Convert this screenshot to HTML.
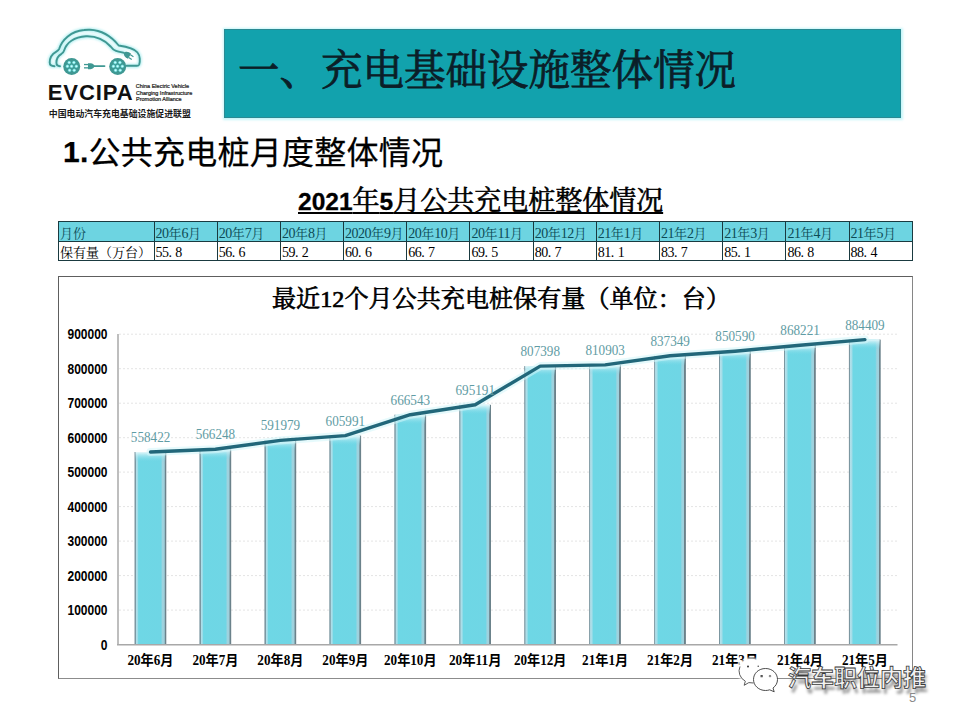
<!DOCTYPE html>
<html><head><meta charset="utf-8"><title>slide</title>
<style>
*{margin:0;padding:0;box-sizing:border-box}
html,body{width:960px;height:720px;overflow:hidden;background:#fff}
body{position:relative;font-family:"Liberation Sans","Noto Sans CJK SC",sans-serif;color:#000}
.abs{position:absolute}
#tbar{left:224px;top:29px;width:677px;height:89px;background:#12a2ad;border:1px solid #2a8a93;box-shadow:0 0 2px 1.5px rgba(175,242,247,0.7)}
#ttl{left:238px;top:45.8px;font-family:"Liberation Serif","Noto Serif CJK SC",serif;font-weight:400;-webkit-text-stroke:0.8px #0b1e28;font-size:41.5px;line-height:50px;color:#0b1e28;white-space:nowrap}
#h1{left:63px;top:131.5px;font-size:32px;line-height:42px;white-space:nowrap;font-weight:400;letter-spacing:0.25px;-webkit-text-stroke:0.25px #000}
#h1 b{font-family:"Liberation Sans",sans-serif;font-weight:700;font-size:30px;position:relative;top:-2px}
#sub{left:298px;top:184px;font-size:27px;line-height:34px;font-weight:400;font-family:"Liberation Sans","Noto Serif CJK SC",serif;-webkit-text-stroke:0.6px #000;white-space:nowrap;text-decoration:underline;text-decoration-thickness:1.6px;text-underline-offset:1.5px}
#sub span{font-size:24.5px;font-weight:700;-webkit-text-stroke:0.3px #000}
table{position:absolute;left:58px;top:221px;border-collapse:collapse;font-family:"Liberation Serif","Noto Serif CJK SC",serif;font-size:13px;table-layout:fixed}
td{border:1.5px solid #1a3a40;height:20px;padding:0 0 0 1px;white-space:nowrap;line-height:18px;overflow:hidden;width:63.2px}
tr.hd td{background:#6dd4e1;color:#0c4a55;height:20px}
tr.bd td{height:18px}
td.f{width:95.5px}
td i{font-style:normal;letter-spacing:3.3px}
.n{font-size:14px;letter-spacing:-0.5px}
.w{position:relative;top:2px}
#chartbox{left:58px;top:276px;width:855px;height:402.5px;border:1.4px solid #5e5e5e;border-right-color:#868686;border-bottom:1.6px solid #8c8c8c}
#ctitle{left:272px;top:284px;letter-spacing:0.1px;-webkit-text-stroke:0.7px #000;font-family:"Liberation Serif","Noto Serif CJK SC",serif;font-weight:400;font-size:24px;line-height:30px;white-space:nowrap}
svg text.yl{font-family:"Liberation Sans",sans-serif;font-weight:700;font-size:14px;fill:#000}
svg text.dl{font-family:"Liberation Serif","Noto Serif CJK SC",serif;font-size:14.8px;fill:#5f9ca4}
svg text.xl{font-family:"Liberation Serif","Noto Sans CJK SC",sans-serif;font-weight:700;font-size:14px;fill:#000}
#pg{left:909px;top:690px;font-size:13px;line-height:16px;color:#8a8a8a}
#wm{left:788px;top:662.5px;font-size:23px;font-weight:700;line-height:30px;color:#f2f2f2;white-space:nowrap;font-family:"Liberation Sans","Noto Sans CJK SC",sans-serif;-webkit-text-stroke:0.8px #3a3a3a;text-shadow:2px 4.5px 3px rgba(0,0,0,0.4)}
</style></head><body>
<svg class="abs" style="left:0;top:0" width="200" height="125" viewBox="0 0 200 125">
 <defs><filter id="glow" x="-10%" y="-10%" width="120%" height="120%"><feGaussianBlur stdDeviation="1.2"/></filter></defs>
 <g fill="none" stroke="#b2eff1" stroke-width="4.2" stroke-linecap="round" stroke-linejoin="round" filter="url(#glow)" opacity="0.9">
  <path d="M54.5,66.2 C51.5,66.2 49.7,65.5 49.7,62.5 C49.7,57.5 52,54 56,51.8 C57.5,51 58.6,50.2 59.2,48.8 C62,40 71,31 84,30 C86,29.8 88,29.7 90,29.8 C101,30.2 111,36 118.7,45.5 C126,46.5 134,48 137.5,52.5 C140.5,56 140,62 139.2,64.5 C138.8,65.5 138,65.8 137,65.8 L126.5,65.8"/>
  <path d="M60,66.2 C57.5,66.2 56.4,65.5 56.4,62.5 C56.4,58.5 58.5,55.5 61.5,53.8 C62.8,53 63.5,52.2 64,50.7 C66.5,43 74,37 86,36.3 C99,35.8 106,41.5 110.6,46.5 C112,48.5 113.5,50 116,50.8 C119,51.7 121.5,52.2 124,52.8"/>
 </g>
 <g fill="none" stroke="#3f9893" stroke-width="1.9" stroke-linecap="round" stroke-linejoin="round">
  <path d="M54.5,66.2 C51.5,66.2 49.7,65.5 49.7,62.5 C49.7,57.5 52,54 56,51.8 C57.5,51 58.6,50.2 59.2,48.8 C62,40 71,31 84,30 C86,29.8 88,29.7 90,29.8 C101,30.2 111,36 118.7,45.5 C126,46.5 134,48 137.5,52.5 C140.5,56 140,62 139.2,64.5 C138.8,65.5 138,65.8 137,65.8 L126.5,65.8"/>
  <path d="M60,66.2 C57.5,66.2 56.4,65.5 56.4,62.5 C56.4,58.5 58.5,55.5 61.5,53.8 C62.8,53 63.5,52.2 64,50.7 C66.5,43 74,37 86,36.3 C99,35.8 106,41.5 110.6,46.5 C112,48.5 113.5,50 116,50.8 C119,51.7 121.5,52.2 124,52.8"/>
  <line x1="93" y1="66.1" x2="104.5" y2="66.1"/>
 </g>
 <g fill="#3f9893"><circle cx="71.7" cy="66.6" r="8.5"/><circle cx="117.7" cy="66.6" r="8.5"/>
  <path d="M88,63.2 L90.5,63.2 C93,63.2 94.3,65 94.5,66.1 C94.3,67.3 93,69.2 90.5,69.2 L88,69.2 Z"/>
  <rect x="84" y="63.9" width="4.2" height="1.3"/><rect x="84" y="67.2" width="4.2" height="1.3"/>
  <g transform="translate(127,54.6) rotate(32)"><path d="M3,-3 L0.5,-3 C-2,-3 -3.2,-1.2 -3.4,0 C-3.2,1.2 -2,3 0.5,3 L3,3 Z"/><rect x="3" y="-2.2" width="3.6" height="1.2"/><rect x="3" y="1" width="3.6" height="1.2"/></g>
 </g>
 <g fill="#d6fdfd" stroke="#72e9eb" stroke-width="0.75"><circle cx="69.2" cy="62.6" r="1.25"/><circle cx="73.9" cy="62.6" r="1.25"/><circle cx="67.4" cy="66.3" r="1.25"/><circle cx="71.6" cy="66.3" r="1.25"/><circle cx="76.3" cy="66.3" r="1.25"/><circle cx="69.6" cy="70.3" r="1.25"/><circle cx="74.2" cy="70.3" r="1.25"/><circle cx="115.2" cy="62.6" r="1.25"/><circle cx="119.9" cy="62.6" r="1.25"/><circle cx="113.4" cy="66.3" r="1.25"/><circle cx="117.6" cy="66.3" r="1.25"/><circle cx="122.3" cy="66.3" r="1.25"/><circle cx="115.6" cy="70.3" r="1.25"/><circle cx="120.2" cy="70.3" r="1.25"/></g>
 <text x="47.8" y="100.2" font-family="Liberation Sans,sans-serif" font-weight="700" font-size="22" letter-spacing="0.9" fill="#111">EVCIPA</text>
 <g font-family="Liberation Sans,sans-serif" font-size="5.5" fill="#222" stroke="#222" stroke-width="0.22"><text x="135.8" y="88">China Electric Vehicle</text><text x="136" y="94.5">Charging Infrastructure</text><text x="136" y="100.5">Promotion Alliance</text></g>
 <text x="48.8" y="116.6" font-family="Liberation Sans,Noto Sans CJK SC,sans-serif" font-weight="700" font-size="8.9" fill="#1a1a1a">中国电动汽车充电基础设施促进联盟</text>
</svg>
<div id="tbar" class="abs"></div>
<div id="ttl" class="abs">一、充电基础设施整体情况</div>
<div id="h1" class="abs"><b>1.</b>公共充电桩月度整体情况</div>
<div id="sub" class="abs"><span>2021</span>年<span>5</span>月公共充电桩整体情况</div>
<table><tr class="hd"><td class="f"><span class="w">月份</span></td><td><span class="w"><span class="n">20</span>年<span class="n">6</span>月</span></td><td><span class="w"><span class="n">20</span>年<span class="n">7</span>月</span></td><td><span class="w"><span class="n">20</span>年<span class="n">8</span>月</span></td><td><span class="w"><span class="n">2020</span>年<span class="n">9</span>月</span></td><td><span class="w"><span class="n">20</span>年<span class="n">10</span>月</span></td><td><span class="w"><span class="n">20</span>年<span class="n">11</span>月</span></td><td><span class="w"><span class="n">20</span>年<span class="n">12</span>月</span></td><td><span class="w"><span class="n">21</span>年<span class="n">1</span>月</span></td><td><span class="w"><span class="n">21</span>年<span class="n">2</span>月</span></td><td><span class="w"><span class="n">21</span>年<span class="n">3</span>月</span></td><td><span class="w"><span class="n">21</span>年<span class="n">4</span>月</span></td><td><span class="w"><span class="n">21</span>年<span class="n">5</span>月</span></td></tr><tr class="bd"><td class="f"><span class="w">保有量（万台）</span></td><td><span class="w n">55<i>.</i>8</span></td><td><span class="w n">56<i>.</i>6</span></td><td><span class="w n">59<i>.</i>2</span></td><td><span class="w n">60<i>.</i>6</span></td><td><span class="w n">66<i>.</i>7</span></td><td><span class="w n">69<i>.</i>5</span></td><td><span class="w n">80<i>.</i>7</span></td><td><span class="w n">81<i>.</i>1</span></td><td><span class="w n">83<i>.</i>7</span></td><td><span class="w n">85<i>.</i>1</span></td><td><span class="w n">86<i>.</i>8</span></td><td><span class="w n">88<i>.</i>4</span></td></tr></table>
<div id="chartbox" class="abs"></div>
<div id="ctitle" class="abs">最近12个月公共充电桩保有量（单位：台）</div>
<svg class="abs" style="left:0;top:0" width="960" height="720" viewBox="0 0 960 720">
<defs>
<linearGradient id="gbar" x1="0" x2="1" y1="0" y2="0"><stop offset="0" stop-color="#7c97a1"/><stop offset="0.035" stop-color="#7c97a1"/><stop offset="0.045" stop-color="#b2e0ea"/><stop offset="0.09" stop-color="#a6dde8"/><stop offset="0.13" stop-color="#6ed7e5"/><stop offset="0.83" stop-color="#6fd6e5"/><stop offset="0.88" stop-color="#9fd3df"/><stop offset="0.94" stop-color="#9fd0dc"/><stop offset="0.955" stop-color="#6b828b"/><stop offset="1" stop-color="#6b828b"/></linearGradient>
<linearGradient id="gtop" x1="0" x2="0" y1="0" y2="1"><stop offset="0" stop-color="#e6f8fb"/><stop offset="1" stop-color="#70d6e6" stop-opacity="0"/></linearGradient>
</defs>
<line x1="119" y1="610.1" x2="897" y2="610.1" stroke="#e4e4e4" stroke-width="1" stroke-dasharray="2 2"/>
<line x1="119" y1="575.6" x2="897" y2="575.6" stroke="#e4e4e4" stroke-width="1" stroke-dasharray="2 2"/>
<line x1="119" y1="541.1" x2="897" y2="541.1" stroke="#e4e4e4" stroke-width="1" stroke-dasharray="2 2"/>
<line x1="119" y1="506.6" x2="897" y2="506.6" stroke="#e4e4e4" stroke-width="1" stroke-dasharray="2 2"/>
<line x1="119" y1="472.1" x2="897" y2="472.1" stroke="#e4e4e4" stroke-width="1" stroke-dasharray="2 2"/>
<line x1="119" y1="437.7" x2="897" y2="437.7" stroke="#e4e4e4" stroke-width="1" stroke-dasharray="2 2"/>
<line x1="119" y1="403.2" x2="897" y2="403.2" stroke="#e4e4e4" stroke-width="1" stroke-dasharray="2 2"/>
<line x1="119" y1="368.7" x2="897" y2="368.7" stroke="#e4e4e4" stroke-width="1" stroke-dasharray="2 2"/>
<line x1="119" y1="334.2" x2="897" y2="334.2" stroke="#e4e4e4" stroke-width="1" stroke-dasharray="2 2"/>
<text x="107.5" y="649.6" class="yl" text-anchor="end" textLength="6.7" lengthAdjust="spacingAndGlyphs">0</text>
<text x="107.5" y="615.1" class="yl" text-anchor="end" textLength="40.0" lengthAdjust="spacingAndGlyphs">100000</text>
<text x="107.5" y="580.6" class="yl" text-anchor="end" textLength="40.0" lengthAdjust="spacingAndGlyphs">200000</text>
<text x="107.5" y="546.1" class="yl" text-anchor="end" textLength="40.0" lengthAdjust="spacingAndGlyphs">300000</text>
<text x="107.5" y="511.6" class="yl" text-anchor="end" textLength="40.0" lengthAdjust="spacingAndGlyphs">400000</text>
<text x="107.5" y="477.1" class="yl" text-anchor="end" textLength="40.0" lengthAdjust="spacingAndGlyphs">500000</text>
<text x="107.5" y="442.7" class="yl" text-anchor="end" textLength="40.0" lengthAdjust="spacingAndGlyphs">600000</text>
<text x="107.5" y="408.2" class="yl" text-anchor="end" textLength="40.0" lengthAdjust="spacingAndGlyphs">700000</text>
<text x="107.5" y="373.7" class="yl" text-anchor="end" textLength="40.0" lengthAdjust="spacingAndGlyphs">800000</text>
<text x="107.5" y="339.2" class="yl" text-anchor="end" textLength="40.0" lengthAdjust="spacingAndGlyphs">900000</text>
<rect x="134.5" y="452.0" width="31.8" height="192.6" fill="url(#gbar)"/>
<rect x="135.5" y="452.0" width="29.8" height="10.0" fill="url(#gtop)"/>
<rect x="199.4" y="449.3" width="31.8" height="195.3" fill="url(#gbar)"/>
<rect x="200.4" y="449.3" width="29.8" height="10.0" fill="url(#gtop)"/>
<rect x="264.4" y="440.4" width="31.8" height="204.2" fill="url(#gbar)"/>
<rect x="265.4" y="440.4" width="29.8" height="10.0" fill="url(#gtop)"/>
<rect x="329.3" y="435.6" width="31.8" height="209.0" fill="url(#gbar)"/>
<rect x="330.3" y="435.6" width="29.8" height="10.0" fill="url(#gtop)"/>
<rect x="394.3" y="414.7" width="31.8" height="229.9" fill="url(#gbar)"/>
<rect x="395.3" y="414.7" width="29.8" height="10.0" fill="url(#gtop)"/>
<rect x="459.2" y="404.8" width="31.8" height="239.8" fill="url(#gbar)"/>
<rect x="460.2" y="404.8" width="29.8" height="10.0" fill="url(#gtop)"/>
<rect x="524.2" y="366.1" width="31.8" height="278.5" fill="url(#gbar)"/>
<rect x="525.2" y="366.1" width="29.8" height="10.0" fill="url(#gtop)"/>
<rect x="589.1" y="364.9" width="31.8" height="279.7" fill="url(#gbar)"/>
<rect x="590.1" y="364.9" width="29.8" height="10.0" fill="url(#gtop)"/>
<rect x="654.1" y="355.8" width="31.8" height="288.8" fill="url(#gbar)"/>
<rect x="655.1" y="355.8" width="29.8" height="10.0" fill="url(#gtop)"/>
<rect x="719.0" y="351.2" width="31.8" height="293.4" fill="url(#gbar)"/>
<rect x="720.0" y="351.2" width="29.8" height="10.0" fill="url(#gtop)"/>
<rect x="784.0" y="345.2" width="31.8" height="299.4" fill="url(#gbar)"/>
<rect x="785.0" y="345.2" width="29.8" height="10.0" fill="url(#gtop)"/>
<rect x="848.9" y="339.6" width="31.8" height="305.0" fill="url(#gbar)"/>
<rect x="849.9" y="339.6" width="29.8" height="10.0" fill="url(#gtop)"/>
<line x1="118" y1="334" x2="118" y2="645" stroke="#a8a8a8" stroke-width="1.5"/>
<line x1="117" y1="644.8" x2="897.5" y2="644.8" stroke="#a8a8a8" stroke-width="1.5"/>
<polyline points="150.5,452.0 215.4,449.3 280.4,440.4 345.3,435.6 410.3,414.7 475.2,404.8 540.2,366.1 605.1,364.9 670.1,355.8 735.0,351.2 800.0,345.2 864.9,339.6" fill="none" stroke="#d2f6fa" stroke-width="8" stroke-linejoin="round" stroke-linecap="round" opacity="0.55"/>
<polyline points="150.5,452.0 215.4,449.3 280.4,440.4 345.3,435.6 410.3,414.7 475.2,404.8 540.2,366.1 605.1,364.9 670.1,355.8 735.0,351.2 800.0,345.2 864.9,339.6" fill="none" stroke="#22677a" stroke-width="3.4" stroke-linejoin="round" stroke-linecap="round"/>
<text x="130.8" y="442.0" class="dl" textLength="39.5" lengthAdjust="spacingAndGlyphs">558422</text>
<text x="195.7" y="439.3" class="dl" textLength="39.5" lengthAdjust="spacingAndGlyphs">566248</text>
<text x="260.7" y="430.4" class="dl" textLength="39.5" lengthAdjust="spacingAndGlyphs">591979</text>
<text x="325.6" y="425.6" class="dl" textLength="39.5" lengthAdjust="spacingAndGlyphs">605991</text>
<text x="390.6" y="404.7" class="dl" textLength="39.5" lengthAdjust="spacingAndGlyphs">666543</text>
<text x="455.5" y="394.8" class="dl" textLength="39.5" lengthAdjust="spacingAndGlyphs">695191</text>
<text x="520.5" y="356.1" class="dl" textLength="39.5" lengthAdjust="spacingAndGlyphs">807398</text>
<text x="585.4" y="354.9" class="dl" textLength="39.5" lengthAdjust="spacingAndGlyphs">810903</text>
<text x="650.4" y="345.8" class="dl" textLength="39.5" lengthAdjust="spacingAndGlyphs">837349</text>
<text x="715.3" y="341.2" class="dl" textLength="39.5" lengthAdjust="spacingAndGlyphs">850590</text>
<text x="780.3" y="335.2" class="dl" textLength="39.5" lengthAdjust="spacingAndGlyphs">868221</text>
<text x="845.2" y="329.6" class="dl" textLength="39.5" lengthAdjust="spacingAndGlyphs">884409</text>
<text x="127.4" y="665.4" class="xl" textLength="46.1" lengthAdjust="spacingAndGlyphs">20年6月</text>
<text x="192.4" y="665.4" class="xl" textLength="46.1" lengthAdjust="spacingAndGlyphs">20年7月</text>
<text x="257.3" y="665.4" class="xl" textLength="46.1" lengthAdjust="spacingAndGlyphs">20年8月</text>
<text x="322.3" y="665.4" class="xl" textLength="46.1" lengthAdjust="spacingAndGlyphs">20年9月</text>
<text x="384.0" y="665.4" class="xl" textLength="52.6" lengthAdjust="spacingAndGlyphs">20年10月</text>
<text x="448.9" y="665.4" class="xl" textLength="52.6" lengthAdjust="spacingAndGlyphs">20年11月</text>
<text x="513.9" y="665.4" class="xl" textLength="52.6" lengthAdjust="spacingAndGlyphs">20年12月</text>
<text x="582.1" y="665.4" class="xl" textLength="46.1" lengthAdjust="spacingAndGlyphs">21年1月</text>
<text x="647.0" y="665.4" class="xl" textLength="46.1" lengthAdjust="spacingAndGlyphs">21年2月</text>
<text x="712.0" y="665.4" class="xl" textLength="46.1" lengthAdjust="spacingAndGlyphs">21年3月</text>
<text x="776.9" y="665.4" class="xl" textLength="46.1" lengthAdjust="spacingAndGlyphs">21年4月</text>
<text x="841.9" y="665.4" class="xl" textLength="46.1" lengthAdjust="spacingAndGlyphs">21年5月</text>
</svg>
<svg class="abs" style="left:730px;top:655px" width="55" height="42" viewBox="730 655 55 42">
 <defs><filter id="wg" x="-30%" y="-30%" width="160%" height="160%"><feGaussianBlur stdDeviation="1.3"/></filter></defs>
 <ellipse cx="751" cy="670.8" rx="14" ry="13" fill="#fff" filter="url(#wg)" opacity="0.9"/>
 <ellipse cx="751" cy="670.8" rx="12.5" ry="11.8" fill="#fff"/>
 <path d="M740,666.5 A12.5,11.8 0 0 0 745.3,681.2 L744.2,685.3 L748.8,682.6 L753.5,683" fill="#fff" stroke="#4a4a4a" stroke-width="0.9"/>
 <path d="M765.5,668.5 C758.8,668.5 753.5,673.2 753.5,679.5 C753.5,685.6 758.8,690.5 765.5,690.5 C767,690.5 768.4,690.3 769.7,689.8 L774.2,691.8 L773,688 C775.8,686 777.5,683 777.5,679.5 C777.5,673.2 772.2,668.5 765.5,668.5 Z" fill="#fff" stroke="#3a3a3a" stroke-width="0.9"/>
 <g fill="#333"><circle cx="748" cy="666.6" r="1"/><circle cx="758.2" cy="666.2" r="0.7"/></g>
 <g fill="none" stroke="#444" stroke-width="0.7"><rect x="760.9" y="675.4" width="1.5" height="1.5"/><circle cx="770" cy="676.1" r="0.8"/></g>
</svg>
<div id="wm" class="abs">汽车职位内推</div>
<div id="pg" class="abs">5</div>
</body></html>
